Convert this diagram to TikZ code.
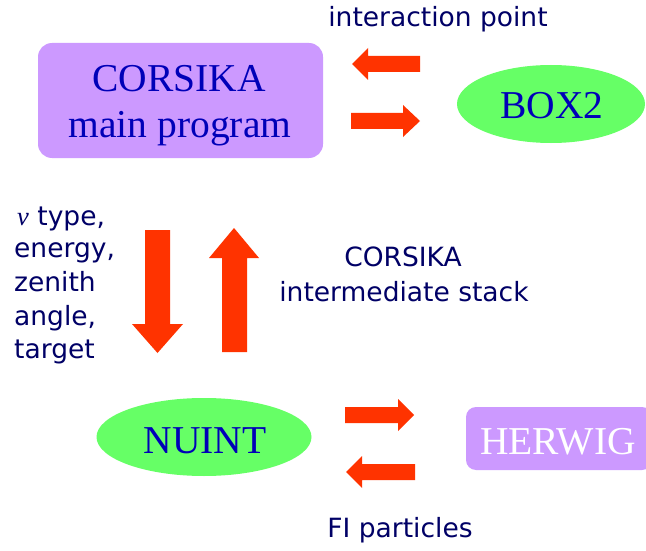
\documentclass[tikz,border=0pt]{standalone}
\usepackage{fontspec}
\setmainfont{DejaVu Sans}
\newfontfamily\serifrm{Liberation Serif}
\usetikzlibrary{shapes.geometric}
\definecolor{boxpurple}{HTML}{CC99FF}
\definecolor{ellgreen}{HTML}{66FF66}
\definecolor{arrred}{HTML}{FF3300}
\definecolor{navy}{HTML}{000066}
\definecolor{serifblue}{HTML}{0000B8}
\tikzset{
  rbox/.style={fill=boxpurple, draw=none, rounded corners=14pt, inner sep=0pt},
  ellnode/.style={ellipse, fill=ellgreen, draw=none, inner sep=0pt},
  bigtext/.style={font=\serifrm\fontsize{39.5}{42}\selectfont, text=serifblue, anchor=base, inner sep=0pt},
  handtext/.style={font=\fontsize{26.5}{30}\selectfont, text=navy, anchor=base, inner sep=0pt},
  lefttext/.style={handtext, anchor=base west},
  blockarrow/.style={fill=arrred, draw=none}
}
\begin{document}
\begin{tikzpicture}[x=1pt, y=-1pt]
\useasboundingbox (0,0) rectangle (646,551);
\fill[white] (0,0) rectangle (646,551);

% shapes
\node[rbox, minimum width=285pt, minimum height=115pt] (cors) at (180.5,100.5) {};
\node[ellnode, minimum width=188pt, minimum height=78pt] (box2) at (551,104) {};
\node[ellnode, minimum width=215pt, minimum height=78pt] (nuint) at (204,437) {};
\node[rbox, rounded corners=10pt, minimum width=186pt, minimum height=63pt] (herwig) at (559,438.5) {};

% texts in shapes
\node[bigtext] (corsA) at (179,92) {CORSIKA};
\node[bigtext] (corsB) at (180,138) {main program};
\node[bigtext] (box2T) at (552,119) {BOX2};
\node[bigtext] (nuintT) at (205,453) {NUINT};
\node[bigtext, text=white] (herwigT) at (558,454) {HERWIG};

% hand texts
\node[handtext] (ip) at (438,27) {interaction point};
\node[handtext] (csA) at (403,266) {CORSIKA};
\node[handtext] (csB) at (404,301) {intermediate stack};
\node[handtext] (fi) at (400,537) {FI particles};
\node[lefttext] (l1) at (17,225) {{\serifrm\itshape ν} type,};
\node[lefttext] (l2) at (14,257) {energy,};
\node[lefttext] (l3) at (14,291) {zenith};
\node[lefttext] (l4) at (14,325) {angle,};
\node[lefttext] (l5) at (14,358) {target};

% block arrows
\fill[blockarrow] (352,64) -- (368,48) -- (368,56) -- (420,56) -- (420,72) -- (368,72) -- (368,80) -- cycle;
\fill[blockarrow] (420,121) -- (403,105) -- (403,113) -- (351,113) -- (351,129) -- (403,129) -- (403,137) -- cycle;
\fill[blockarrow] (157.5,353) -- (132,324) -- (145,324) -- (145,230) -- (170,230) -- (170,324) -- (183,324) -- cycle;
\fill[blockarrow] (234,228) -- (209,258) -- (222,258) -- (222,352) -- (247,352) -- (247,258) -- (259,258) -- cycle;
\fill[blockarrow] (414,415) -- (398,399) -- (398,407) -- (345,407) -- (345,423) -- (398,423) -- (398,431) -- cycle;
\fill[blockarrow] (346,472) -- (362,456) -- (362,464) -- (415,464) -- (415,480) -- (362,480) -- (362,488) -- cycle;
\end{tikzpicture}
\end{document}
